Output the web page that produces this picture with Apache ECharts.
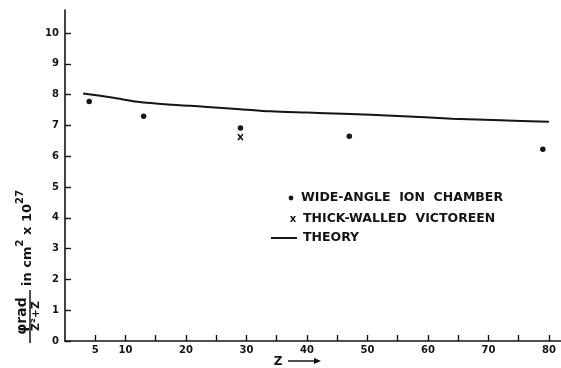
<!DOCTYPE html>
<html>
<head>
<meta charset="utf-8">
<script src="https://cdn.jsdelivr.net/npm/echarts@6/dist/echarts.min.js"></script>
<style>
  html, body { margin: 0; padding: 0; background: #fff; }
  #chart { width: 561px; height: 368px; }
</style>
</head>
<body>
<div id="chart"></div>
<script>
// Measured cross sections, divided by Z^2 + Z, in units of 1e-27 cm^2
const zIonChamber = [4, 13, 29, 47, 79];
const ionChamber = [7.78, 7.30, 6.92, 6.65, 6.23];
const zVictoreen = [29];
const victoreen = [6.62];
// Theoretical curve
const zTheory = [3, 8, 12, 17, 23, 29, 34, 40, 46, 55, 64, 72, 80];
const theory = [8.04, 7.90, 7.77, 7.68, 7.61, 7.53, 7.46, 7.42, 7.38, 7.31, 7.22, 7.17, 7.12];
// Axis ticks and labels
const xTickValues = [5, 10, 15, 20, 25, 30, 35, 40, 45, 50, 55, 60, 65, 70, 75, 80];
const xLabelValues = [5, 10, 20, 30, 40, 50, 60, 70, 80];
const yTickValues = [0, 1, 2, 3, 4, 5, 6, 7, 8, 9, 10];
const legendNames = ['WIDE-ANGLE  ION  CHAMBER', 'THICK-WALLED  VICTOREEN', 'THEORY'];

const ink = '#141414';
const font = '"DejaVu Sans", sans-serif';

const pair = (xs, ys) => xs.map((x, i) => [x, ys[i]]);

const chart = echarts.init(document.getElementById('chart'), null, { renderer: 'canvas' });

chart.setOption({
  backgroundColor: '#fff',
  animation: false,
  grid: { left: 65, right: 0, top: 10, bottom: 27, containLabel: false, outerBoundsMode: 'none' },
  xAxis: {
    type: 'value', min: 0, max: 82,
    axisLine: { show: true, onZero: false, lineStyle: { color: ink, width: 1.6 } },
    axisTick: { show: true, inside: true, length: 6, customValues: xTickValues, lineStyle: { color: ink, width: 1.4 } },
    axisLabel: { customValues: xLabelValues, margin: 4, color: ink, fontFamily: font, fontWeight: 'bold', fontSize: 10 },
    splitLine: { show: false }
  },
  yAxis: {
    type: 'value', min: 0, max: 10.75,
    axisLine: { show: true, onZero: false, lineStyle: { color: ink, width: 1.6 } },
    axisTick: { show: true, inside: true, length: 6, customValues: yTickValues, lineStyle: { color: ink, width: 1.4 } },
    axisLabel: { customValues: yTickValues, margin: 6, color: ink, fontFamily: font, fontWeight: 'bold', fontSize: 10 },
    splitLine: { show: false }
  },
  series: [
    {
      name: legendNames[0], type: 'scatter', data: pair(zIonChamber, ionChamber),
      symbol: 'circle', symbolSize: 5.5, itemStyle: { color: ink, opacity: 1 }
    },
    {
      name: legendNames[1], type: 'scatter', data: pair(zVictoreen, victoreen),
      symbol: 'path://M0,0L10,10M10,0L0,10', symbolSize: [5, 6],
      itemStyle: { color: 'none', borderColor: ink, borderWidth: 1.6, opacity: 1 }
    },
    {
      name: legendNames[2], type: 'line', data: pair(zTheory, theory),
      smooth: 0.3, showSymbol: false, lineStyle: { color: ink, width: 2 }
    }
  ],
  graphic: [
    // Legend
    { type: 'circle', shape: { cx: 291, cy: 198, r: 2.4 }, style: { fill: ink } },
    { type: 'text', x: 301, y: 198, style: { text: legendNames[0], fill: ink, font: 'bold 12.5px ' + font, verticalAlign: 'middle' } },
    { type: 'text', x: 293, y: 219, style: { text: 'x', fill: ink, font: 'bold 10px ' + font, align: 'center', verticalAlign: 'middle' } },
    { type: 'text', x: 303, y: 219, style: { text: legendNames[1], fill: ink, font: 'bold 12.5px ' + font, verticalAlign: 'middle' } },
    { type: 'line', shape: { x1: 271, y1: 238, x2: 297, y2: 238 }, style: { stroke: ink, lineWidth: 2 } },
    { type: 'text', x: 303, y: 238, style: { text: legendNames[2], fill: ink, font: 'bold 12.5px ' + font, verticalAlign: 'middle' } },
    // X axis name with arrow
    { type: 'text', x: 278, y: 362, style: { text: 'Z', fill: ink, font: 'bold 12px ' + font, align: 'center', verticalAlign: 'middle' } },
    { type: 'line', shape: { x1: 288, y1: 361, x2: 316, y2: 361 }, style: { stroke: ink, lineWidth: 1.5 } },
    { type: 'polygon', shape: { points: [[314, 358], [321, 361], [314, 364]] }, style: { fill: ink } },
    // Y axis name, rotated to read upward
    {
      type: 'group', x: 30, y: 343, rotation: Math.PI / 2,
      children: [
        { type: 'text', x: 27, y: -1, style: { text: 'φrad', fill: ink, font: 'bold 14px ' + font, align: 'center', verticalAlign: 'bottom' } },
        { type: 'line', shape: { x1: 0, y1: 0, x2: 53, y2: 0 }, style: { stroke: ink, lineWidth: 1.5 } },
        { type: 'text', x: 27, y: 1, style: { text: 'Z²+Z', fill: ink, font: 'bold 11px ' + font, align: 'center', verticalAlign: 'top' } },
        {
          type: 'text', x: 57, y: 4,
          style: {
            text: '{m|in cm}{s|2}{m| x 10}{s|27}',
            align: 'left', verticalAlign: 'bottom', fill: ink,
            rich: {
              m: { fontFamily: font, fontWeight: 'bold', fontSize: 13, lineHeight: 19, verticalAlign: 'bottom', fill: ink },
              s: { fontFamily: font, fontWeight: 'bold', fontSize: 10, lineHeight: 19, verticalAlign: 'top', fill: ink }
            }
          }
        }
      ]
    }
  ]
});
</script>
</body>
</html>
